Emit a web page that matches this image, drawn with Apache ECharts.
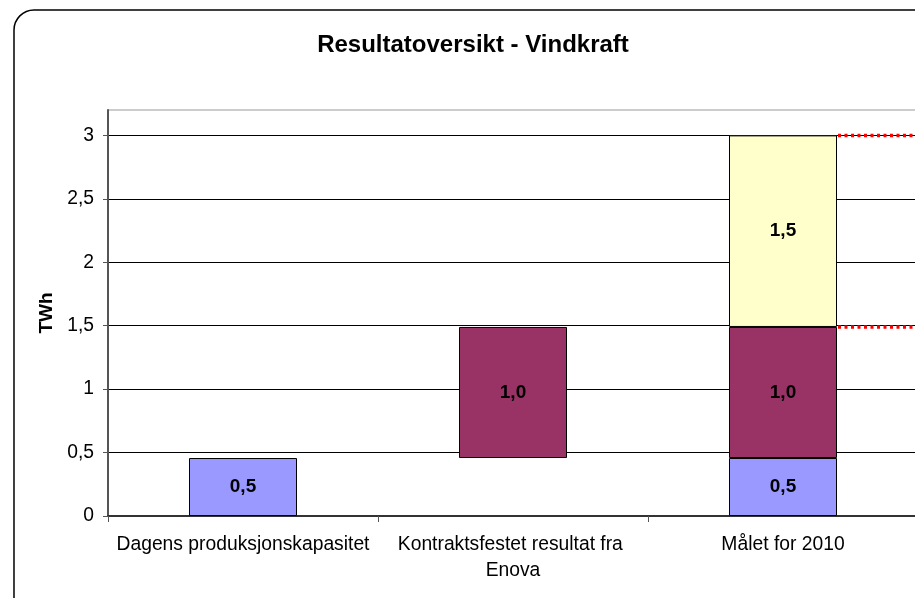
<!DOCTYPE html>
<html><head><meta charset="utf-8">
<script src="https://cdn.jsdelivr.net/npm/echarts@6/dist/echarts.min.js"></script>
<style>html,body{margin:0;padding:0;background:#fff}#c{width:915px;height:598px}</style>
</head><body><div id="c"></div>
<script>
const chartTitle = 'Resultatoversikt - Vindkraft';
const yName = 'TWh';
const categories = ['Dagens produksjonskapasitet', 'Kontraktsfestet resultat fra Enova', 'Målet for 2010'];
const baseOffset = [null, 0.457, null];          // invisible base for floating bar
const currentCapacity = [0.457, null, 0.457];
const contracted = [null, 1.033, 1.033];
const remaining = [null, null, 1.51];
const yTicks = [0, 0.5, 1, 1.5, 2, 2.5, 3];

const level1 = currentCapacity[2] + contracted[2];
const level2 = level1 + remaining[2];
const refLines = [[2, level1], [2, level2]];

const FONT = "'Liberation Sans', Arial, sans-serif";
const fmt = v => (v == null ? '' : v.toFixed(1).replace('.', ','));
const barLabel = {
  show: true, position: 'inside', color: '#000', fontFamily: FONT,
  fontWeight: 'bold', fontSize: 19,
  formatter: p => fmt(p.value)
};
const barBorder = { borderColor: '#000', borderWidth: 1 };

const chart = echarts.init(document.getElementById('c'), null, { renderer: 'canvas' });
chart.setOption({
  animation: false,
  backgroundColor: '#fff',
  textStyle: { fontFamily: FONT },
  title: {
    text: chartTitle, left: 473, top: 33, padding: 0, textAlign: 'center',
    textStyle: { fontFamily: FONT, fontWeight: 'bold', fontSize: 24, color: '#000' }
  },
  graphic: [{
    type: 'rect', silent: true, z: -10,
    shape: { x: 14, y: 10, width: 1000, height: 700, r: 20 },
    style: { fill: null, stroke: '#000', lineWidth: 1.5 }
  }],
  grid: {
    left: 108, width: 810, top: 110, bottom: 82,
    outerBoundsMode: 'none', containLabel: false,
    show: true, borderColor: '#999', borderWidth: 1, backgroundColor: 'transparent'
  },
  xAxis: {
    type: 'category', data: categories,
    axisLine: { lineStyle: { color: '#333', width: 2 } },
    axisTick: { show: true, alignWithLabel: false, length: 6, lineStyle: { color: '#555', width: 1 } },
    axisLabel: {
      color: '#000', fontFamily: FONT, fontSize: 19.3, margin: 16, lineHeight: 26,
      interval: 0, width: 268, overflow: 'break'
    },
    splitLine: { show: false }
  },
  yAxis: {
    type: 'value', min: 0, max: 3.2, interval: 0.5,
    name: yName, nameLocation: 'middle', nameGap: 52, nameRotate: 90,
    nameTextStyle: { fontFamily: FONT, fontWeight: 'bold', fontSize: 19, color: '#000' },
    axisLine: { show: true, lineStyle: { color: '#555', width: 2 } },
    axisTick: { show: true, length: 5, customValues: yTicks, lineStyle: { color: '#555' } },
    axisLabel: {
      color: '#000', fontFamily: FONT, fontSize: 19.3, margin: 14,
      customValues: yTicks,
      formatter: v => String(v).replace('.', ',')
    },
    splitLine: { show: true, lineStyle: { color: '#000', width: 1 } }
  },
  series: [
    { type: 'bar', stack: 'total', barWidth: '40%', data: baseOffset,
      itemStyle: { color: 'transparent', borderWidth: 0 }, silent: true },
    { type: 'bar', stack: 'total', barWidth: '40%', data: currentCapacity,
      itemStyle: Object.assign({ color: '#9999FF' }, barBorder), label: barLabel },
    { type: 'bar', stack: 'total', barWidth: '40%', data: contracted,
      itemStyle: Object.assign({ color: '#993366' }, barBorder), label: barLabel },
    { type: 'bar', stack: 'total', barWidth: '40%', data: remaining,
      itemStyle: Object.assign({ color: '#FFFFCC' }, barBorder), label: barLabel },
    {
      type: 'custom', z: 10, clip: false, data: refLines, encode: { x: 0, y: 1 },
      renderItem: function (params, api) {
        const p = api.coord([api.value(0), api.value(1)]);
        const bw = api.size([1, 0])[0];
        const cs = params.coordSys;
        return {
          type: 'line',
          shape: { x1: p[0] + bw * 0.2 + 1, y1: p[1], x2: cs.x + cs.width, y2: p[1] },
          style: { stroke: '#ff0000', lineWidth: 3.5, lineDash: [3, 3.5], fill: null }
        };
      }
    }
  ]
});
</script></body></html>
